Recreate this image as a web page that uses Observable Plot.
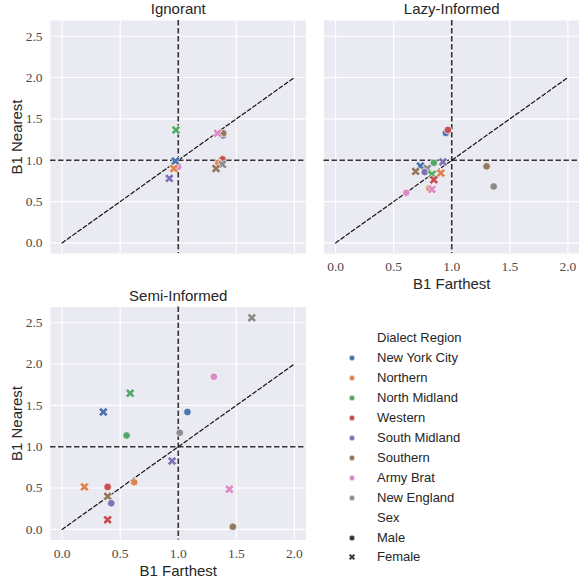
<!DOCTYPE html>
<html><head><meta charset="utf-8">
<script src="https://cdn.jsdelivr.net/npm/d3@7"></script>
<script src="https://cdn.jsdelivr.net/npm/@observablehq/plot@0.6"></script>
<style>
body{margin:0;background:#fff}
#wrap{position:relative;width:579px;height:581px;overflow:hidden}
#chart{position:absolute;left:0;top:0}
.lg{position:absolute;font-family:"Liberation Sans",Arial,sans-serif;font-size:13px;color:#262626;white-space:nowrap;line-height:16px}
.lm{position:absolute}
</style>
</head><body><div id="wrap"><div id="chart"></div><div id="legend"></div></div>
<script>
// ---- data ----
const conditions = ["Ignorant", "Lazy-Informed", "Semi-Informed"];
const regions = ["New York City", "Northern", "North Midland", "Western", "South Midland", "Southern", "Army Brat", "New England"];
const palette = ["#4C72B0", "#DD8452", "#55A868", "#C44E52", "#8172B3", "#937860", "#DA8BC3", "#8C8C8C"];
const sexes = ["Male", "Female"];
const xTicks = [0, 0.5, 1, 1.5, 2];
const yTicks = [0, 0.5, 1, 1.5, 2, 2.5];
const xLabel = "B1 Farthest";
const yLabel = "B1 Nearest";
const refLine = [0, 2];
const vLine = [1];
const hLine = [1];

// [region, sex, B1 Farthest, B1 Nearest]
const ignorant = [
  ["Army Brat", "Male", 1.00, 0.92],
  ["South Midland", "Male", 1.385, 1.30],
  ["Western", "Male", 1.381, 1.01],
  ["Northern", "Male", 1.345, 0.97],
  ["Southern", "Male", 1.387, 1.326],
  ["Army Brat", "Female", 1.338, 1.326],
  ["New York City", "Female", 0.974, 0.99],
  ["Northern", "Female", 0.962, 0.90],
  ["South Midland", "Female", 0.923, 0.78],
  ["North Midland", "Female", 0.98, 1.366],
  ["New England", "Female", 1.38, 0.95],
  ["Southern", "Female", 1.325, 0.90]
];
const lazyInformed = [
  ["New York City", "Male", 0.949, 1.33],
  ["Western", "Male", 0.967, 1.366],
  ["North Midland", "Male", 0.846, 0.97],
  ["South Midland", "Female", 0.924, 0.98],
  ["New York City", "Female", 0.730, 0.93],
  ["New England", "Female", 0.79, 0.90],
  ["Southern", "Female", 0.689, 0.865],
  ["South Midland", "Male", 0.767, 0.857],
  ["North Midland", "Female", 0.829, 0.829],
  ["Northern", "Female", 0.906, 0.845],
  ["Western", "Female", 0.846, 0.764],
  ["Northern", "Male", 0.807, 0.663],
  ["Army Brat", "Female", 0.829, 0.647],
  ["Army Brat", "Male", 0.609, 0.606],
  ["Southern", "Male", 1.30, 0.926],
  ["New England", "Male", 1.361, 0.683]
];
const semiInformed = [
  ["New England", "Female", 1.633, 2.56],
  ["Army Brat", "Male", 1.307, 1.847],
  ["North Midland", "Female", 0.586, 1.647],
  ["New York City", "Female", 0.355, 1.42],
  ["New York City", "Male", 1.079, 1.42],
  ["North Midland", "Male", 0.555, 1.136],
  ["New England", "Male", 1.013, 1.169],
  ["South Midland", "Female", 0.947, 0.827],
  ["Northern", "Male", 0.621, 0.57],
  ["Northern", "Female", 0.192, 0.514],
  ["Western", "Male", 0.392, 0.514],
  ["Southern", "Female", 0.392, 0.40],
  ["South Midland", "Male", 0.423, 0.317],
  ["Army Brat", "Female", 1.44, 0.486],
  ["Western", "Female", 0.392, 0.117],
  ["Southern", "Male", 1.47, 0.033]
];

// ---- build table ----
const panelCol = {"Ignorant": 0, "Lazy-Informed": 1, "Semi-Informed": 0};
const panelRow = {"Ignorant": 0, "Lazy-Informed": 0, "Semi-Informed": 1};
const byCondition = {"Ignorant": ignorant, "Lazy-Informed": lazyInformed, "Semi-Informed": semiInformed};
const points = conditions.flatMap(c => byCondition[c].map(([region, sex, far, near]) => ({condition: c, region, sex, far, near})));

// filled "X" marker like matplotlib's
const xSymbol = {
  draw(ctx, size) {
    const L = Math.sqrt(size / Math.PI) * 1.3, h = L / 3;
    const pts = [[h,L],[h,h],[L,h],[L,-h],[h,-h],[h,-L],[-h,-L],[-h,-h],[-L,-h],[-L,h],[-h,h],[-h,L]]
      .map(([x, y]) => [(x - y) / Math.SQRT2, (x + y) / Math.SQRT2]);
    ctx.moveTo(pts[0][0], pts[0][1]);
    for (let i = 1; i < pts.length; i++) ctx.lineTo(pts[i][0], pts[i][1]);
    ctx.closePath();
  }
};

const sans = "Liberation Sans";
const serif = "Liberation Serif";
const fxOf = d => panelCol[d];
const fyOf = d => panelRow[d];

const chart = Plot.plot({
  width: 579,
  height: 581,
  marginLeft: 50,
  marginRight: 0,
  marginTop: 20,
  marginBottom: 41.5,
  style: {fontFamily: serif, fontSize: "13px", color: "#262626", background: "transparent"},
  x: {domain: [-0.1, 2.1]},
  y: {domain: [-0.128, 2.69]},
  fx: {domain: [0, 1], axis: null, paddingInner: 0.0657, paddingOuter: 0, round: false},
  fy: {domain: [0, 1], axis: null, paddingInner: 0.1867, paddingOuter: 0, round: false},
  color: {domain: regions, range: palette},
  symbol: {domain: sexes, range: ["circle", xSymbol]},
  marks: [
    Plot.frame({fill: "#EAEAF2", stroke: "none"}),
    Plot.gridX({ticks: xTicks, stroke: "white", strokeOpacity: 1, strokeWidth: 1.1}),
    Plot.gridY({ticks: yTicks, stroke: "white", strokeOpacity: 1, strokeWidth: 1.1}),
    Plot.axisX({ticks: xTicks, facetAnchor: "bottom-empty", tickSize: 0, tickPadding: 8, tickFormat: d3.format(".1f"), label: null, fill: "#4a4a4a", fontFamily: serif, fontSize: 13.5}),
    Plot.axisY({ticks: yTicks, facetAnchor: "left", tickSize: 0, tickPadding: 8, tickFormat: d3.format(".1f"), label: null, fill: "#4a4a4a", fontFamily: serif, fontSize: 13.5}),
    Plot.ruleX(vLine, {stroke: "#333", strokeWidth: 1.6, strokeDasharray: "5.5,2.5"}),
    Plot.ruleY(hLine, {stroke: "#333", strokeWidth: 1.6, strokeDasharray: "5.5,2.5"}),
    Plot.line(refLine, {x: d => d, y: d => d, stroke: "#111", strokeWidth: 1.2, strokeDasharray: "4,2.5"}),
    Plot.dot(points, {
      x: "far", y: "near",
      fx: d => panelCol[d.condition], fy: d => panelRow[d.condition],
      fill: "region", symbol: "sex", stroke: "white", strokeWidth: 0.7, r: 3.8
    }),
    Plot.text(conditions, {fx: fxOf, fy: fyOf, text: d => d, frameAnchor: "top", dy: -11, lineAnchor: "middle", fontFamily: sans, fontSize: 15, fill: "#262626"}),
    Plot.text(conditions.filter(c => panelCol[c] === 0), {fx: fxOf, fy: fyOf, text: () => yLabel, frameAnchor: "left", dx: -33, rotate: -90, textAnchor: "middle", lineAnchor: "middle", fontFamily: sans, fontSize: 15, fill: "#262626"}),
    Plot.text(conditions.filter(c => c !== "Ignorant"), {fx: fxOf, fy: fyOf, text: () => xLabel, frameAnchor: "bottom", dy: 31, textAnchor: "middle", lineAnchor: "middle", fontFamily: sans, fontSize: 15, fill: "#262626"})
  ]
});
document.getElementById("chart").appendChild(chart);

// ---- legend ----
const legend = document.getElementById("legend");
const items = [
  {title: "Dialect Region"},
  ...regions.map((r, i) => ({text: r, color: palette[i], shape: "circle"})),
  {title: "Sex"},
  {text: sexes[0], color: "#333", shape: "circle"},
  {text: sexes[1], color: "#333", shape: "x"}
];
const y0 = 338.3, step = 19.92;
items.forEach((it, i) => {
  const cy = y0 + i * step;
  const t = document.createElement("div");
  t.className = "lg";
  t.style.left = "377px";
  t.style.top = (cy - 8) + "px";
  t.textContent = it.title || it.text;
  legend.appendChild(t);
  if (!it.title) {
    const ns = "http://www.w3.org/2000/svg";
    const s = document.createElementNS(ns, "svg");
    s.setAttribute("width", 12); s.setAttribute("height", 12);
    s.setAttribute("class", "lm");
    s.style.left = (351.5 - 6) + "px";
    s.style.top = (cy - 6) + "px";
    let el;
    if (it.shape === "circle") {
      el = document.createElementNS(ns, "circle");
      el.setAttribute("cx", 6); el.setAttribute("cy", 6); el.setAttribute("r", 2.7);
    } else {
      el = document.createElementNS(ns, "path");
      const p = d3.path();
      xSymbol.draw(p, Math.PI * 2.6 * 2.6);
      el.setAttribute("d", p.toString());
      el.setAttribute("transform", "translate(6,6)");
    }
    el.setAttribute("fill", it.color);
    el.setAttribute("stroke", "white");
    el.setAttribute("stroke-width", 0.4);
    s.appendChild(el);
    legend.appendChild(s);
  }
});
</script></body></html>
